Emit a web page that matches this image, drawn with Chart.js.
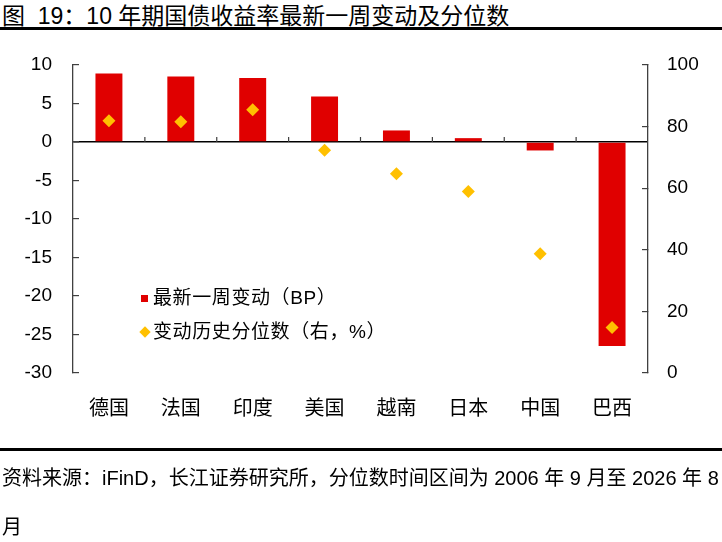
<!DOCTYPE html>
<html>
<head>
<meta charset="utf-8">
<script src="https://cdn.jsdelivr.net/npm/chart.js@4.4.1/dist/chart.umd.min.js"></script>
<style>
  html, body { margin: 0; padding: 0; background: #fff; }
  body { width: 722px; height: 542px; position: relative; overflow: hidden;
         font-family: "Liberation Sans", "Noto Sans CJK SC", sans-serif; color: #000; }
  #title { position: absolute; left: 2px; top: 0; font-size: 23px; line-height: 32px; white-space: pre; }
  .rule { position: absolute; left: 0; width: 722px; height: 3px; background: #000; }
  #footer { position: absolute; left: 2px; top: 454px; font-size: 20px; line-height: 49px; white-space: nowrap; }
  #wrap { position: absolute; left: 0; top: 0; width: 722px; height: 542px; }
  #legend { position: absolute; left: 0; top: 0; font-size: 19px; }
  .item { position: absolute; white-space: nowrap; line-height: 24px; letter-spacing: 0.6px; }
  .mark { position: absolute; }
</style>
</head>
<body>
<div id="title">图  19：10 年期国债收益率最新一周变动及分位数</div>
<div class="rule" style="top:27px"></div>
<div id="wrap"><canvas id="myChart"></canvas></div>
<div id="legend"></div>
<div class="rule" style="top:448px"></div>
<div id="footer">资料来源：iFinD，长江证券研究所，分位数时间区间为 2006 年 9 月至 2026 年 8<br>月</div>

<script>
const categories = ['德国', '法国', '印度', '美国', '越南', '日本', '中国', '巴西'];
const weeklyChange = [8.9, 8.5, 8.3, 5.9, 1.5, 0.5, -1.1, -26.5];
const percentile = [81.9, 81.6, 85.5, 72.3, 64.7, 58.9, 38.7, 14.8];

const FONT = '"Liberation Sans", "Noto Sans CJK SC", sans-serif';
const AXIS = '#404040';

// small tick marks on the zero line between categories
const catTicks = {
    id: 'catTicks',
    afterDatasetsDraw(chart) {
        const x = chart.scales.x;
        const y0 = chart.scales.y.getPixelForValue(0);
        const ctx = chart.ctx;
        ctx.save();
        ctx.strokeStyle = AXIS;
        ctx.lineWidth = 1.2;
        ctx.beginPath();
        for (let i = 1; i < categories.length; i++) {
            const px = (x.getPixelForValue(i - 1) + x.getPixelForValue(i)) / 2;
            ctx.moveTo(px, y0);
            ctx.lineTo(px, y0 - 5);
        }
        ctx.stroke();
        ctx.restore();
    }
};

const ctx = document.getElementById('myChart');

const data = {
    labels: categories,
    datasets: [
        {
            type: 'bar',
            label: '最新一周变动（BP）',
            data: weeklyChange,
            backgroundColor: '#E00000',
            yAxisID: 'y',
            barPercentage: 0.375,
            categoryPercentage: 1,
            order: 2
        },
        {
            type: 'line',
            label: '变动历史分位数（右，%）',
            data: percentile,
            yAxisID: 'y1',
            showLine: false,
            pointStyle: 'rectRot',
            pointRadius: 6.5,
            pointBackgroundColor: '#FFC000',
            pointBorderWidth: 0,
            order: 1
        }
    ]
};

const config = {
    type: 'bar',
    data: data,
    options: {
        responsive: true,
        maintainAspectRatio: false,
        animation: false,
        layout: { padding: { top: 65, left: 0, right: 0, bottom: 0 } },
        scales: {
            x: {
                grid: { display: false },
                border: { display: false },
                ticks: { color: '#000', padding: 16, font: { family: FONT, size: 20 } },
                afterFit: s => { s.height = 169; }
            },
            y: {
                position: 'left',
                min: -30,
                max: 10,
                ticks: { stepSize: 5, color: '#000', padding: 27, font: { family: FONT, size: 19 } },
                grid: {
                    drawOnChartArea: true,
                    tickLength: -6,
                    tickColor: AXIS,
                    color: c => (c.tick && c.tick.value === 0 ? '#000' : 'rgba(0,0,0,0)'),
                    lineWidth: c => (c.tick && c.tick.value === 0 ? 1.5 : 1.2)
                },
                border: { display: true, color: AXIS, width: 1.3 },
                afterFit: s => { s.width = 73; }
            },
            y1: {
                position: 'right',
                min: 0,
                max: 100,
                ticks: { stepSize: 20, color: '#000', padding: 25, font: { family: FONT, size: 19 } },
                grid: { drawOnChartArea: false, tickLength: -6, color: AXIS, lineWidth: 1.2 },
                border: { display: true, color: AXIS, width: 1.3 },
                afterFit: s => { s.width = 74; }
            }
        },
        plugins: {
            legend: { display: false },
            tooltip: { enabled: false }
        }
    },
    plugins: [catTicks]
};

const chart = new Chart(ctx, config);

// legend inside the plot, built from the datasets
const legend = document.getElementById('legend');
const rows = [
    { ds: chart.data.datasets[0], cy: 298, square: true },
    { ds: chart.data.datasets[1], cy: 331.5, square: false }
];
rows.forEach(r => {
    const m = document.createElement('div');
    m.className = 'mark';
    if (r.square) {
        m.style.cssText = `left:141px;top:${r.cy - 3.5}px;width:7px;height:7px;background:${r.ds.backgroundColor};`;
    } else {
        m.style.cssText = `left:140.5px;top:${r.cy - 4}px;width:8px;height:8px;background:${r.ds.pointBackgroundColor};transform:rotate(45deg);`;
    }
    legend.appendChild(m);
    const t = document.createElement('div');
    t.className = 'item';
    t.style.left = '153px';
    t.style.top = (r.cy - 12) + 'px';
    t.textContent = r.ds.label;
    legend.appendChild(t);
});
</script>
</body>
</html>
